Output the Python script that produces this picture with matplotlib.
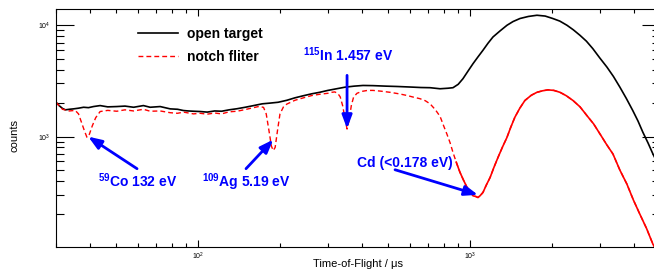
import matplotlib
matplotlib.use("Agg")
import matplotlib.pyplot as plt
from matplotlib.ticker import LogLocator, NullFormatter

plt.rcParams['font.family'] = ['Liberation Sans', 'DejaVu Sans']
plt.rcParams['mathtext.fontset'] = 'custom'
plt.rcParams['mathtext.rm'] = 'Liberation Sans'
plt.rcParams['mathtext.bf'] = 'Liberation Sans:bold'
plt.rcParams['mathtext.it'] = 'Liberation Sans:italic'

# time of flight (us) and counts
open_tof = [30, 30.8, 31.7, 32.5, 33.6, 34.8, 36.3, 37.9, 39.5, 41.2, 43.6, 46.5, 50.2,
            53.8, 57.9, 62.9, 66.6, 72.5, 78.9, 84, 88.3, 92, 96.1, 101.7, 108, 115, 122,
            130, 139, 149, 160, 172, 184, 197, 212, 227, 244, 262, 280, 300, 323, 347,
            375, 404, 440, 490, 539, 600, 660, 713, 776, 830, 866, 905, 942, 985, 1026,
            1070, 1116, 1165, 1215, 1290, 1368, 1440, 1527, 1640, 1763, 1890, 2017, 2140,
            2274, 2400, 2538, 2680, 2830, 3000, 3190, 3370, 3560, 3760, 3970, 4150, 4325,
            4520, 4710, 5000]
open_counts = [2036, 1900, 1790, 1740, 1760, 1775, 1800, 1835, 1820, 1862, 1900, 1850, 1862,
               1880, 1835, 1900, 1835, 1862, 1775, 1760, 1715, 1700, 1690, 1680, 1660, 1700,
               1690, 1740, 1780, 1835, 1900, 1970, 2000, 2035, 2120, 2230, 2330, 2425, 2500,
               2600, 2690, 2780, 2840, 2880, 2870, 2840, 2820, 2790, 2760, 2750, 2690, 2720,
               2750, 2950, 3310, 3900, 4520, 5200, 5960, 6900, 7850, 8900, 10000, 10800, 11500,
               12000, 12300, 12100, 11500, 10900, 10000, 9100, 8130, 7200, 6170, 5100, 4210,
               3470, 2780, 2200, 1715, 1380, 1094, 875, 698, 520]

notch_tof = [30, 31.7, 33.6, 35.3, 36.3, 37.2, 38.2, 39, 39.8, 40.8, 42, 43.6, 46.5, 50.2,
             53.8, 57.9, 62.9, 66.6, 72.5, 78.9, 84, 88.3, 96.1, 101.7, 108, 115, 122, 130,
             139, 149, 160, 168, 174, 178, 182, 186, 189, 192, 196, 200, 206, 212, 227, 244,
             262, 280, 300, 310, 318, 326, 333, 340, 347, 353, 359, 366, 373, 384, 401, 420,
             440, 470, 508, 550, 587, 620, 655, 685, 713, 745, 776, 800, 822, 845, 866, 890,
             918, 945, 975, 1000, 1026, 1050, 1070, 1090, 1116, 1150, 1186, 1225, 1268, 1315,
             1368, 1410, 1462, 1525, 1592, 1680, 1763, 1850, 1935, 2035, 2143, 2260, 2393,
             2540, 2692, 2850, 3007, 3180, 3357, 3560, 3777, 3990, 4216, 4460, 4710, 5000]
notch_counts = [2036, 1760, 1700, 1720, 1600, 1350, 1120, 985, 1050, 1250, 1480, 1680, 1720,
                1690, 1740, 1700, 1760, 1690, 1700, 1640, 1620, 1660, 1600, 1620, 1590, 1630,
                1600, 1670, 1690, 1750, 1820, 1870, 1830, 1600, 1150, 820, 750, 800, 1150,
                1600, 1850, 1960, 2120, 2230, 2340, 2400, 2450, 2500, 2520, 2450, 2280, 1900,
                1450, 1170, 1400, 1900, 2260, 2450, 2550, 2600, 2600, 2560, 2500, 2420, 2340,
                2260, 2190, 2100, 1970, 1750, 1520, 1250, 1057, 880, 720, 590, 480, 410, 350,
                320, 294, 290, 284, 295, 315, 370, 430, 530, 651, 800, 985, 1200, 1490, 1800,
                2110, 2350, 2500, 2580, 2630, 2600, 2500, 2330, 2110, 1850, 1545, 1300, 1057,
                850, 698, 500, 375, 270, 201, 150, 108, 85]

fig = plt.figure(figsize=(6.54, 2.75), dpi=100)
ax = fig.add_axes([56 / 654, 1 - 247 / 275, 604 / 654, 238 / 275])

ax.plot(open_tof, open_counts, color='black', lw=1.2, label='open target')
ax.plot(notch_tof, notch_counts, color='red', lw=1.0, linestyle=(0, (3.5, 2.2)),
        label='notch fliter')
# the dense histogram bins look solid on the right side
n0 = notch_tof.index(890)
ax.plot(notch_tof[n0:], notch_counts[n0:], color='red', lw=1.2)

ax.set_xscale('log')
ax.set_yscale('log')
ax.set_xlim(30, 5000)
ax.set_ylim(102, 14000)

for axis in (ax.xaxis, ax.yaxis):
    axis.set_major_locator(LogLocator(base=10))
    axis.set_minor_locator(LogLocator(base=10, subs=range(2, 10)))
    axis.set_minor_formatter(NullFormatter())

ax.tick_params(which='both', direction='in', top=True, right=True, width=0.8, labelsize=5)
ax.tick_params(axis='y', which='major', length=13, pad=4)
ax.tick_params(axis='y', which='minor', length=6)
ax.tick_params(axis='x', which='major', length=5, pad=3)
ax.tick_params(axis='x', which='minor', length=3.2)
for s in ax.spines.values():
    s.set_linewidth(0.8)

ax.set_xlabel('Time-of-Flight / \u03bcs', fontsize=8)
ax.xaxis.set_label_coords(0.5, -0.05)
ax.set_ylabel('counts', fontsize=8)
ax.yaxis.set_label_coords(-0.06, 0.47)

ax.legend(loc='center left', bbox_to_anchor=(138 / 654, 1 - 45.5 / 275),
          bbox_transform=fig.transFigure, frameon=False, fontsize=10,
          prop={'weight': 'bold', 'size': 10}, handlelength=2.9, handletextpad=0.65,
          labelspacing=0.65, borderpad=0, borderaxespad=0)

blue = '#0000ff'
arrow = dict(arrowstyle='-|>,head_length=0.8,head_width=0.3', color=blue, lw=2,
             mutation_scale=10, shrinkA=0, shrinkB=0)
ax.annotate('', xy=(39.4, 1000), xytext=(59.6, 515), arrowprops=arrow)
ax.annotate('', xy=(189, 940), xytext=(150, 515), arrowprops=arrow)
ax.annotate('', xy=(353, 1180), xytext=(353, 3550), arrowprops=arrow)
ax.annotate('', xy=(1070, 300), xytext=(530, 504), arrowprops=arrow)

lab = dict(color=blue, fontsize=10, fontweight='bold', va='baseline', ha='left')
ax.text(42.9, 355, r'$^{\mathbf{59}}$Co 132 eV', **lab)
ax.text(103.4, 355, r'$^{\mathbf{109}}$Ag 5.19 eV', **lab)
ax.text(243, 4770, r'$^{\mathbf{115}}$In 1.457 eV', **lab)
ax.text(385, 528, 'Cd (<0.178 eV)', **lab)

fig.savefig('out.png', dpi=100)
